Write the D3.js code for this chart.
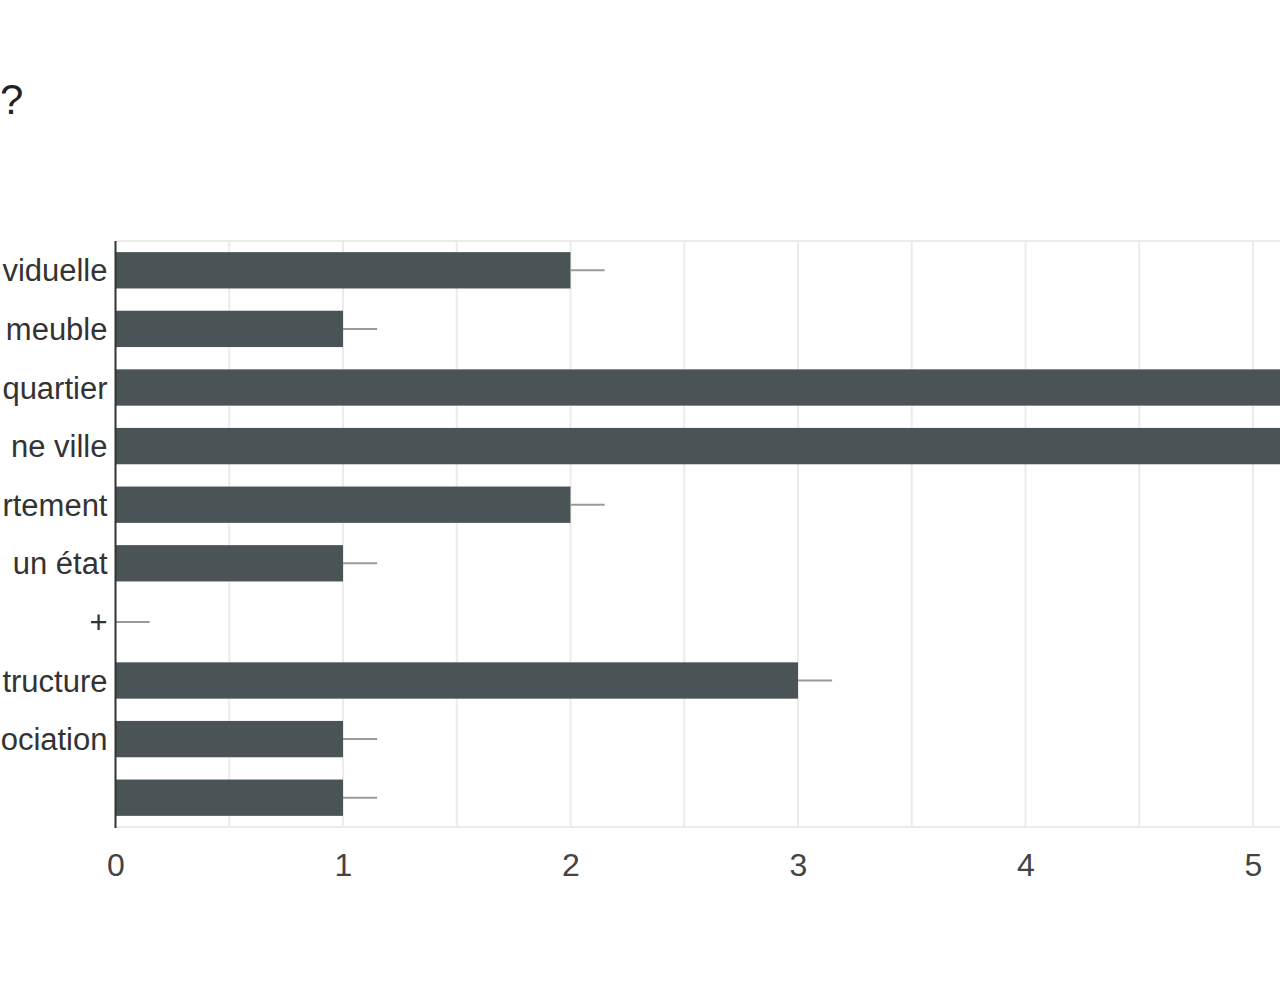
<!DOCTYPE html>
<html><head><meta charset="utf-8">
<script src="https://cdn.jsdelivr.net/npm/d3@7"></script>
<style>body{margin:0;background:#fff;overflow:hidden}svg{display:block}</style>
</head><body>
<svg id="c" width="1280" height="1000"></svg>
<script>
const categories = ["viduelle","meuble","quartier","ne ville","rtement","un état","+","tructure","ociation",""];
const values = [2,1,6,6,2,1,0,3,1,1];
const errPlus = [0.15,0.15,0.15,0.15,0.15,0.15,0.15,0.15,0.15,0.15];
const tickValues = [0,1,2,3,4,5];
const gridValues = [0.5,1,1.5,2,2.5,3,3.5,4,4.5,5,5.5,6];
const titleText = "?";

(function(){
const svg = d3.select("#c");
const FONT = "'Liberation Sans', Arial, sans-serif";
const left = 115.5, plotTop = 241, plotBottom = 827;
const x = d3.scaleLinear().domain([0,6]).range([left, left + 6*227.5]);
const y = d3.scaleBand().domain(categories.map((d,i)=>i)).range([plotTop,plotBottom]).paddingInner(0.38).paddingOuter(0.19);

svg.append("text").attr("x",0).attr("y",114).attr("font-family",FONT)
  .attr("font-size",42).attr("fill","#222").text(titleText);

// grid
svg.append("g").selectAll("line").data(gridValues).join("line")
  .attr("x1",d=>x(d)).attr("x2",d=>x(d)).attr("y1",plotTop).attr("y2",plotBottom)
  .attr("stroke","#ebebeb").attr("stroke-width",2);
svg.append("line").attr("x1",left).attr("x2",1280).attr("y1",plotTop).attr("y2",plotTop).attr("stroke","#ebebeb").attr("stroke-width",2);
svg.append("line").attr("x1",left).attr("x2",1280).attr("y1",plotBottom).attr("y2",plotBottom).attr("stroke","#ebebeb").attr("stroke-width",2);

// bars
svg.append("g").selectAll("rect").data(values).join("rect")
  .attr("x",x(0)).attr("y",(d,i)=>y(i)).attr("width",d=>x(d)-x(0)).attr("height",y.bandwidth())
  .attr("fill","#4a5456");

// error whiskers
svg.append("g").selectAll("line").data(values).join("line")
  .attr("x1",d=>x(d)).attr("x2",(d,i)=>x(d+errPlus[i])).attr("y1",(d,i)=>y(i)+y.bandwidth()/2).attr("y2",(d,i)=>y(i)+y.bandwidth()/2)
  .attr("stroke","#9a9a9a").attr("stroke-width",2);

// y axis
const ya = d3.axisLeft(y).tickSize(0).tickPadding(8).tickFormat(i=>categories[i]);
const gy = svg.append("g").attr("transform",`translate(${left},0)`).call(ya);
gy.select(".domain").remove();
gy.selectAll("text").attr("font-family",FONT).attr("font-size",31).attr("fill","#333").attr("dy","0.36em");
svg.append("line").attr("x1",left).attr("x2",left).attr("y1",plotTop).attr("y2",plotBottom+1).attr("stroke","#333").attr("stroke-width",2);

// x axis
const xa = d3.axisBottom(x).tickValues(tickValues).tickSize(0).tickPadding(26).tickFormat(d3.format("d"));
const gx = svg.append("g").attr("transform",`translate(0,${plotBottom})`).call(xa);
gx.select(".domain").remove();
gx.selectAll("text").attr("font-family",FONT).attr("font-size",32).attr("fill","#444");
})();
</script>
</body></html>
